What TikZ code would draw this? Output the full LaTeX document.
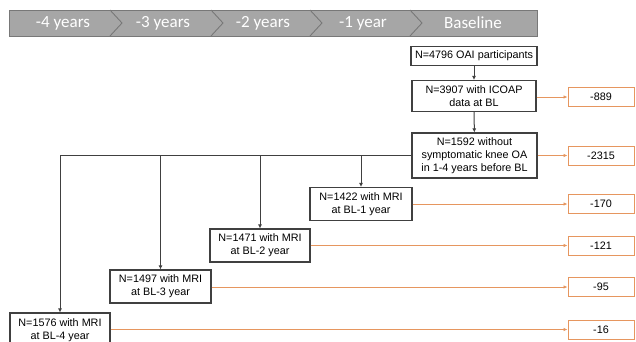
\documentclass[tikz,border=0pt]{standalone}
\usepackage{fontspec}
\setmainfont{Liberation Sans}
\newfontfamily\bannerfont{Carlito}
\usetikzlibrary{arrows.meta}
\definecolor{bannerfill}{RGB}{166,166,166}
\definecolor{bannerline}{RGB}{120,120,120}
\definecolor{boxline}{RGB}{64,64,64}
\definecolor{orangeline}{RGB}{230,150,95}
\tikzset{
  mainbox/.style={draw=boxline, line width=1.1pt, fill=white, align=center, inner sep=0pt,
    font=\fontsize{10.8}{13}\selectfont},
  dropbox/.style={draw=orangeline, line width=0.9pt, fill=white, align=center, inner sep=0pt,
    minimum width=66pt, minimum height=19pt, font=\fontsize{10.8}{13}\selectfont},
  flowarrow/.style={draw=boxline, line width=1pt, -{Latex[length=4pt,width=4pt]}},
  droparrow/.style={draw=orangeline, line width=0.9pt, -{Latex[length=4pt,width=3.5pt]}},
  bannertext/.style={text=white, font=\bannerfont\fontsize{17}{20}\selectfont, inner sep=0pt},
  chevron/.style={draw=bannerline, line width=0.9pt}
}
\begin{document}
\begin{tikzpicture}[x=1pt,y=-1pt]
\useasboundingbox (0,0) rectangle (636,341);
\clip (0,0) rectangle (636,341);
% banner
\draw[fill=bannerfill, draw=bannerline, line width=0.9pt] (9,10) rectangle (537,36);
\draw[chevron] (110,10) -- (122,23) -- (110,36);
\draw[chevron] (211,10) -- (223,23) -- (211,36);
\draw[chevron] (310,10) -- (322,23) -- (310,36);
\draw[chevron] (410,10) -- (422,23) -- (410,36);
\node[bannertext] (y4) at (63,23) {-4 years};
\node[bannertext] (y3) at (163,23) {-3 years};
\node[bannertext] (y2) at (263,23) {-2 years};
\node[bannertext] (y1) at (363,23) {-1 year};
\node[bannertext] (bl) at (473,23) {Baseline};
% main boxes
\node[mainbox, minimum width=126pt, minimum height=19pt] (b1) at (474,56) {N=4796 OAI participants};
\node[mainbox, minimum width=124pt, minimum height=31pt] (b2) at (474,96) {N=3907 with ICOAP\\data at BL};
\node[mainbox, minimum width=125pt, minimum height=45pt] (b3) at (474.5,155.5) {N=1592 without\\symptomatic knee OA\\in 1-4 years before BL};
\node[mainbox, minimum width=102pt, minimum height=33pt] (m1) at (361,204) {N=1422 with MRI\\at BL-1 year};
\node[mainbox, minimum width=100pt, minimum height=33pt] (m2) at (260,245.5) {N=1471 with MRI\\at BL-2 year};
\node[mainbox, minimum width=101pt, minimum height=33pt] (m3) at (160.5,286.5) {N=1497 with MRI\\at BL-3 year};
\node[mainbox, minimum width=100pt, minimum height=34pt] (m4) at (60,330) {N=1576 with MRI\\at BL-4 year};
% exclusion boxes
\node[dropbox] (d0) at (601,97) {-889};
\node[dropbox] (d1) at (601,155.5) {-2315};
\node[dropbox] (d2) at (601,204) {-170};
\node[dropbox] (d3) at (601,245.5) {-121};
\node[dropbox] (d4) at (601,287) {-95};
\node[dropbox] (d5) at (601,329.5) {-16};
% flow
\draw[flowarrow] (b1) -- (b2);
\draw[flowarrow] (b2) -- (b3);
\coordinate (j4) at (m4.north |- b3.west);
\coordinate (j3) at (m3.north |- b3.west);
\coordinate (j2) at (m2.north |- b3.west);
\coordinate (j1) at (m1.north |- b3.west);
\draw[draw=boxline, line width=1pt] (b3.west) -- (j4);
\draw[flowarrow] (j4) -- (m4.north);
\draw[flowarrow] (j3) -- (m3.north);
\draw[flowarrow] (j2) -- (m2.north);
\draw[flowarrow] (j1) -- (m1.north);
% exclusions
\draw[droparrow] (b2.east |- d0.west) -- (d0.west);
\draw[droparrow] (b3.east) -- (d1.west);
\draw[droparrow] (m1.east |- d2.west) -- (d2.west);
\draw[droparrow] (m2.east) -- (d3.west);
\draw[droparrow] (m3.east |- d4.west) -- (d4.west);
\draw[droparrow] (m4.east |- d5.west) -- (d5.west);
\end{tikzpicture}
\end{document}
